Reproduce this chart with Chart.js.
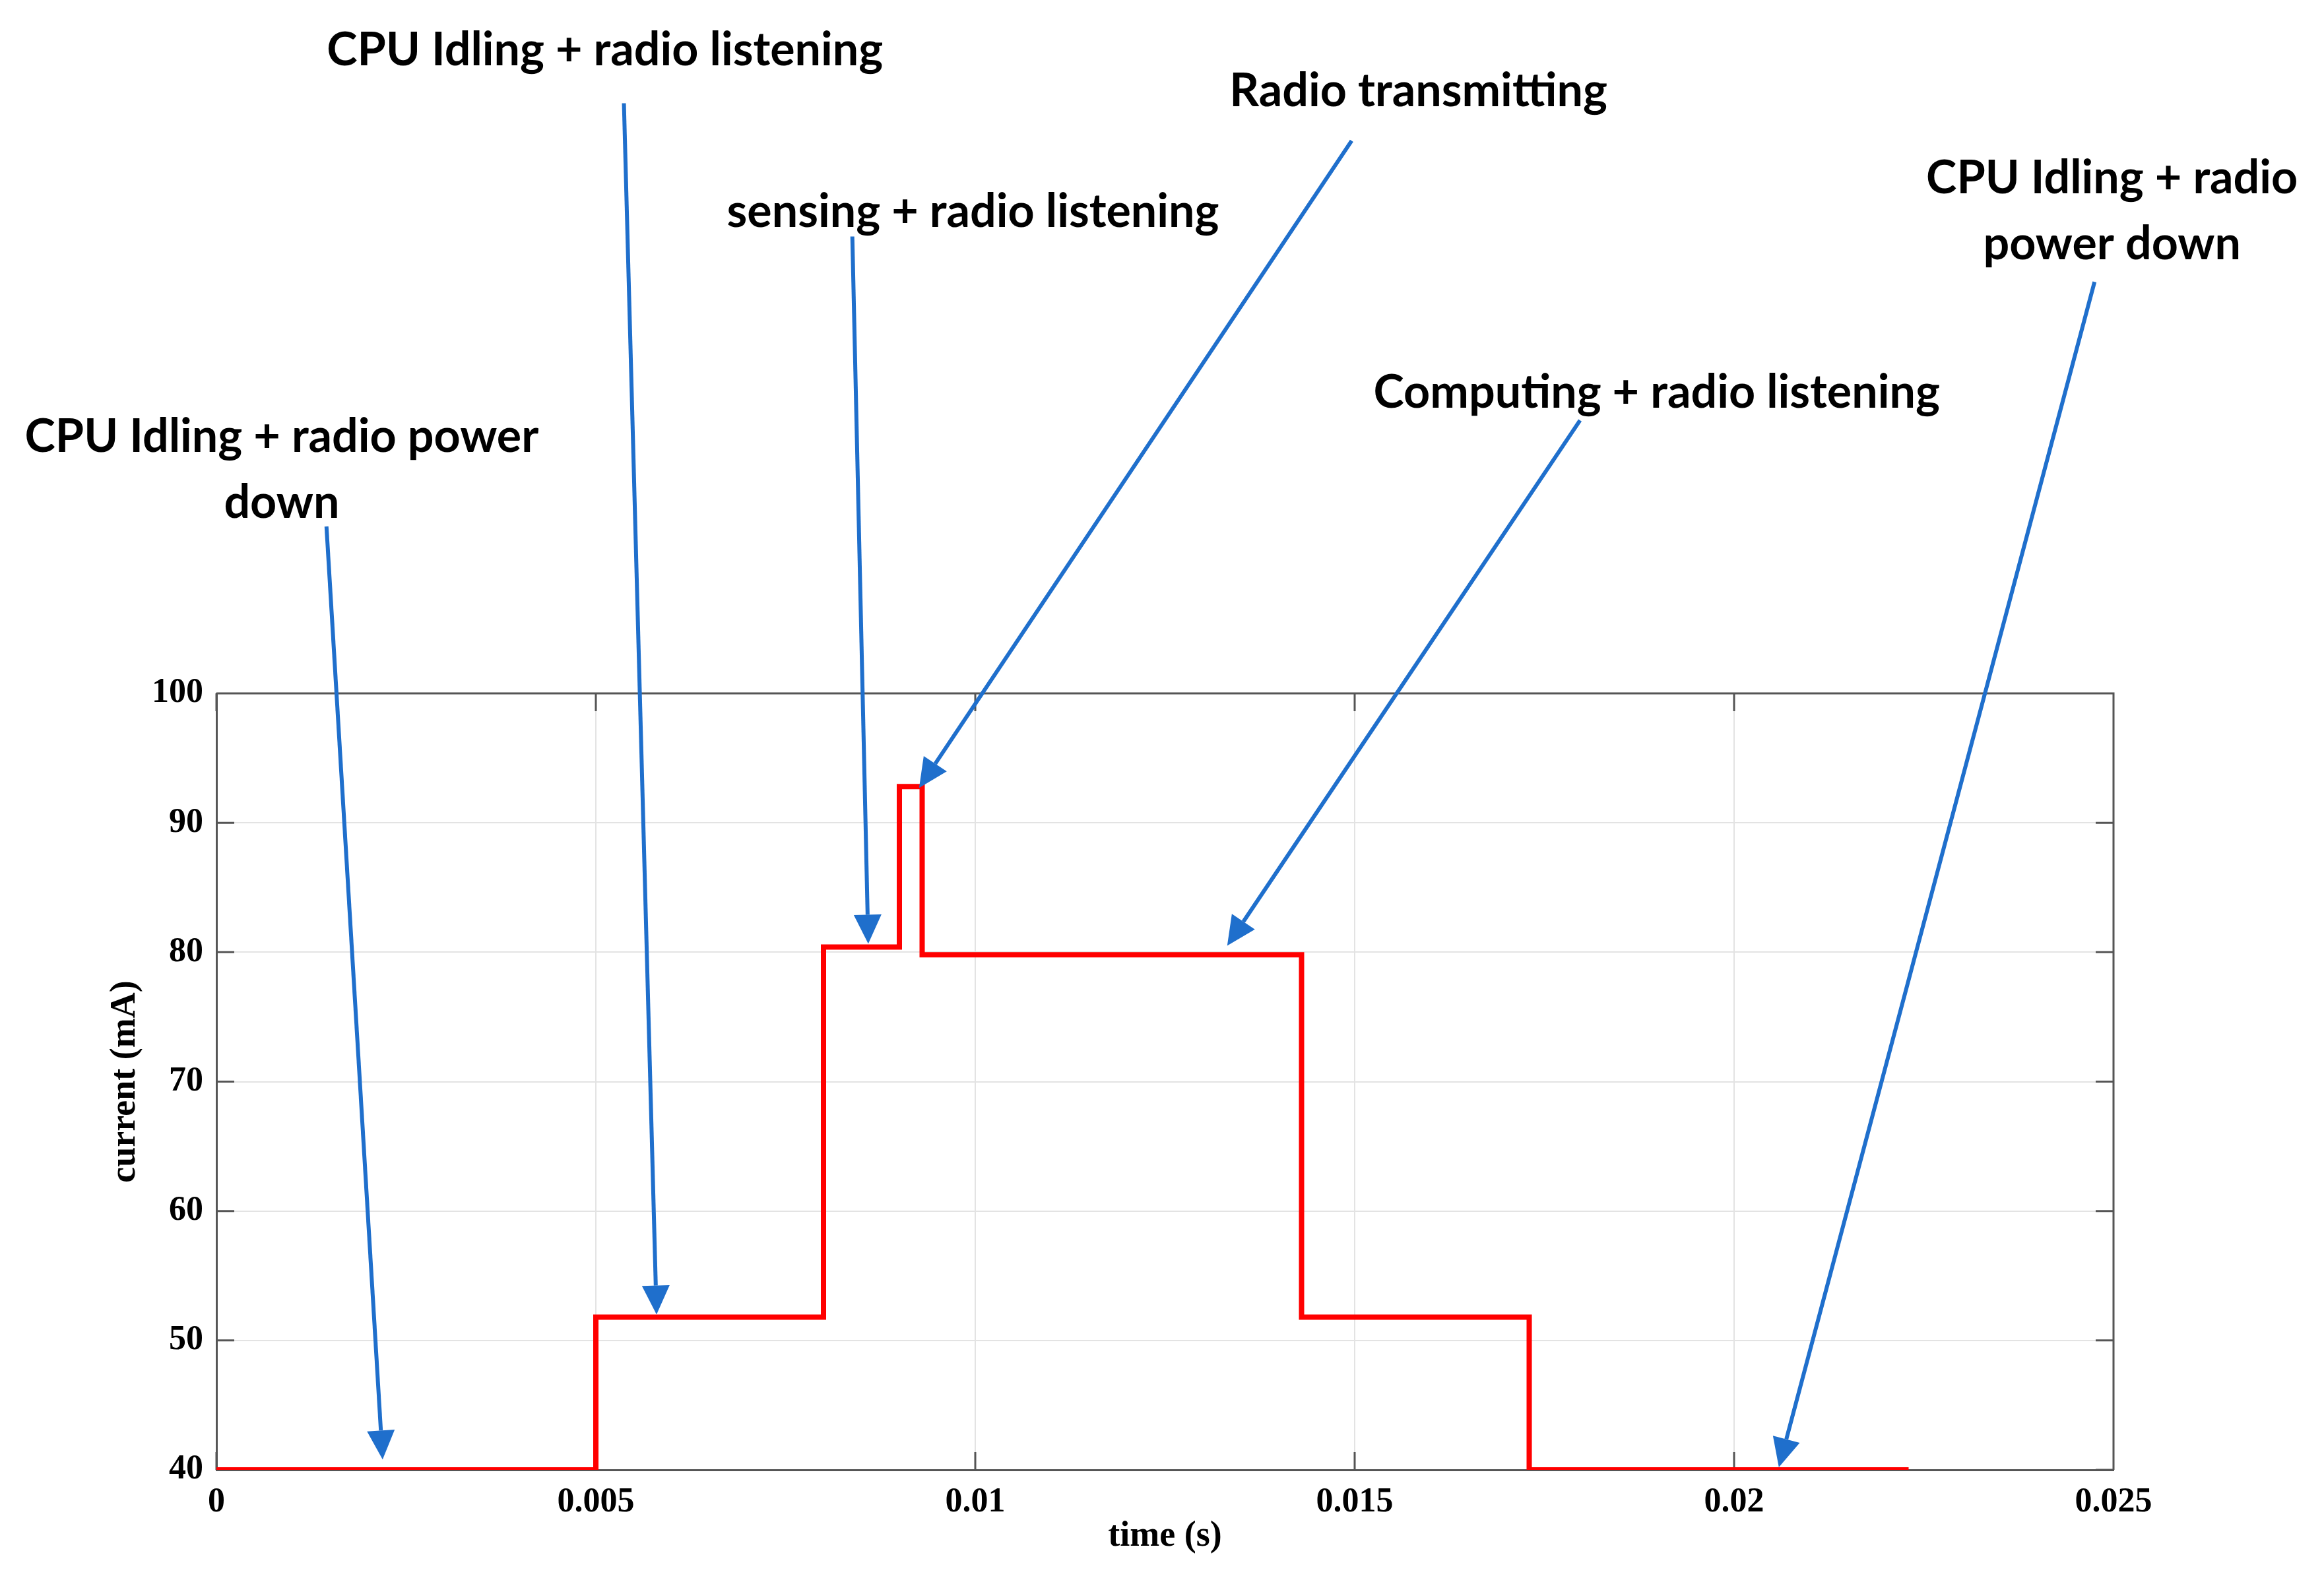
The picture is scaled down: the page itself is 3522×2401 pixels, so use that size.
<!DOCTYPE html>
<html lang="en">
<head>
<meta charset="UTF-8">
<title>Current profile of a sensor node</title>
<script src="https://cdn.jsdelivr.net/npm/chart.js@4.4.0/dist/chart.umd.min.js"></script>
<style>
    html, body { margin: 0; padding: 0; background: #ffffff; }
    #wrap { width: 3522px; height: 2401px; }
</style>
</head>
<body>
<div id="wrap"><canvas id="currentChart" width="3522" height="2401"></canvas></div>
<script>
// step profile: each level holds from its start time until the next point
const times    = [0, 0.005, 0.008, 0.009, 0.0093, 0.0143, 0.0173, 0.0223];
const currents = [40, 51.8, 80.4, 92.8, 79.8, 51.8, 40, 40];

const xTicks = [0, 0.005, 0.01, 0.015, 0.02, 0.025];
const yTicks = [40, 50, 60, 70, 80, 90, 100];

// callouts (data units, text sits above the plot so y goes past 100)
const noteText = [
    ['CPU Idling + radio power', 'down'],
    ['CPU Idling + radio listening'],
    ['sensing + radio listening'],
    ['Radio transmitting'],
    ['Computing + radio listening'],
    ['CPU Idling + radio', 'power down']
];
const noteAt    = [[0.00086, 119.8], [0.00512, 149.7], [0.00997, 137.2], [0.01584, 146.5], [0.01898, 123.2], [0.02498, 139.8]];
const arrowFrom = [[0.00145, 112.9], [0.00537, 145.6], [0.00838, 135.3], [0.01496, 142.7], [0.01797, 121.1], [0.02475, 131.8]];
const arrowTo   = [[0.00219, 40.8], [0.0058, 52.0], [0.00859, 80.65], [0.00926, 92.7], [0.01332, 80.5], [0.02059, 40.2]];

const AXIS_COLOR = '#555555';
const ARROW_COLOR = '#1F6FCC';
const serif = "'Liberation Serif', 'Times New Roman', serif";

// box on top/right + inward ticks like MATLAB
const framePlugin = {
    id: 'frame',
    beforeDatasetsDraw(chart) {
        const { ctx, chartArea: a, scales: { x, y } } = chart;
        const len = 27;
        ctx.save();
        ctx.strokeStyle = AXIS_COLOR;
        ctx.lineWidth = 3;
        ctx.beginPath();
        ctx.moveTo(a.left, a.top); ctx.lineTo(a.right, a.top); ctx.lineTo(a.right, a.bottom);
        x.ticks.forEach(t => {
            const px = x.getPixelForValue(t.value);
            ctx.moveTo(px, a.bottom); ctx.lineTo(px, a.bottom - len);
            ctx.moveTo(px, a.top); ctx.lineTo(px, a.top + len);
        });
        y.ticks.forEach(t => {
            const py = y.getPixelForValue(t.value);
            ctx.moveTo(a.left, py); ctx.lineTo(a.left + len, py);
            ctx.moveTo(a.right, py); ctx.lineTo(a.right - len, py);
        });
        ctx.stroke();
        ctx.restore();
    }
};

const notesPlugin = {
    id: 'notes',
    afterDraw(chart) {
        const { ctx, scales: { x, y } } = chart;
        ctx.save();
        // arrows
        ctx.strokeStyle = ARROW_COLOR;
        ctx.fillStyle = ARROW_COLOR;
        ctx.lineWidth = 6;
        for (let i = 0; i < arrowFrom.length; i++) {
            const x0 = x.getPixelForValue(arrowFrom[i][0]), y0 = y.getPixelForValue(arrowFrom[i][1]);
            const x1 = x.getPixelForValue(arrowTo[i][0]),   y1 = y.getPixelForValue(arrowTo[i][1]);
            const ang = Math.atan2(y1 - y0, x1 - x0);
            const headLen = 44, headHalf = 21;
            const bx = x1 - headLen * Math.cos(ang), by = y1 - headLen * Math.sin(ang);
            ctx.beginPath();
            ctx.moveTo(x0, y0);
            ctx.lineTo(bx, by);
            ctx.stroke();
            ctx.beginPath();
            ctx.moveTo(x1, y1);
            ctx.lineTo(bx + headHalf * Math.sin(ang), by - headHalf * Math.cos(ang));
            ctx.lineTo(bx - headHalf * Math.sin(ang), by + headHalf * Math.cos(ang));
            ctx.closePath();
            ctx.fill();
        }
        // labels
        ctx.fillStyle = '#000000';
        ctx.font = "bold 70px Lato, 'Open Sans', sans-serif";
        ctx.textAlign = 'center';
        ctx.textBaseline = 'middle';
        for (let i = 0; i < noteText.length; i++) {
            const cx = x.getPixelForValue(noteAt[i][0]);
            const cy = y.getPixelForValue(noteAt[i][1]);
            noteText[i].forEach((line, k) => ctx.fillText(line, cx, cy + k * 100));
        }
        ctx.restore();
    }
};

new Chart(document.getElementById('currentChart'), {
    type: 'line',
    data: {
        datasets: [{
            label: 'current',
            data: times.map((t, i) => ({ x: t, y: currents[i] })),
            stepped: 'before',
            borderColor: '#FF0000',
            borderWidth: 8,
            pointRadius: 0,
            fill: false
        }]
    },
    options: {
        responsive: false,
        animation: false,
        devicePixelRatio: 1,
        layout: { padding: { left: 150, top: 1051, right: 319, bottom: 40 } },
        plugins: {
            legend: { display: false },
            tooltip: { enabled: false }
        },
        scales: {
            x: {
                type: 'linear',
                min: 0,
                max: 0.025,
                afterBuildTicks: s => { s.ticks = xTicks.map(v => ({ value: v })); },
                afterFit: s => { s.height = 133; },
                ticks: {
                    color: '#000000',
                    padding: 18,
                    maxRotation: 0,
                    font: { family: serif, size: 52, weight: 'bold' },
                    callback: v => String(+v.toFixed(3))
                },
                grid: { color: '#e3e3e3', lineWidth: 2, drawTicks: false },
                border: { display: true, color: AXIS_COLOR, width: 3 },
                title: {
                    display: true, text: 'time (s)', color: '#000000',
                    padding: { top: 0, bottom: 0 },
                    font: { family: serif, size: 54, weight: 'bold' }
                }
            },
            y: {
                type: 'linear',
                min: 40,
                max: 100,
                afterBuildTicks: s => { s.ticks = yTicks.map(v => ({ value: v })); },
                afterFit: s => { s.width = 178; },
                ticks: {
                    color: '#000000',
                    padding: 20,
                    font: { family: serif, size: 52, weight: 'bold' }
                },
                grid: { color: '#e3e3e3', lineWidth: 2, drawTicks: false },
                border: { display: true, color: AXIS_COLOR, width: 3 },
                title: {
                    display: true, text: 'current (mA)', color: '#000000',
                    padding: { top: 8, bottom: 0 },
                    font: { family: serif, size: 54, weight: 'bold' }
                }
            }
        }
    },
    plugins: [framePlugin, notesPlugin]
});
</script>
</body>
</html>
